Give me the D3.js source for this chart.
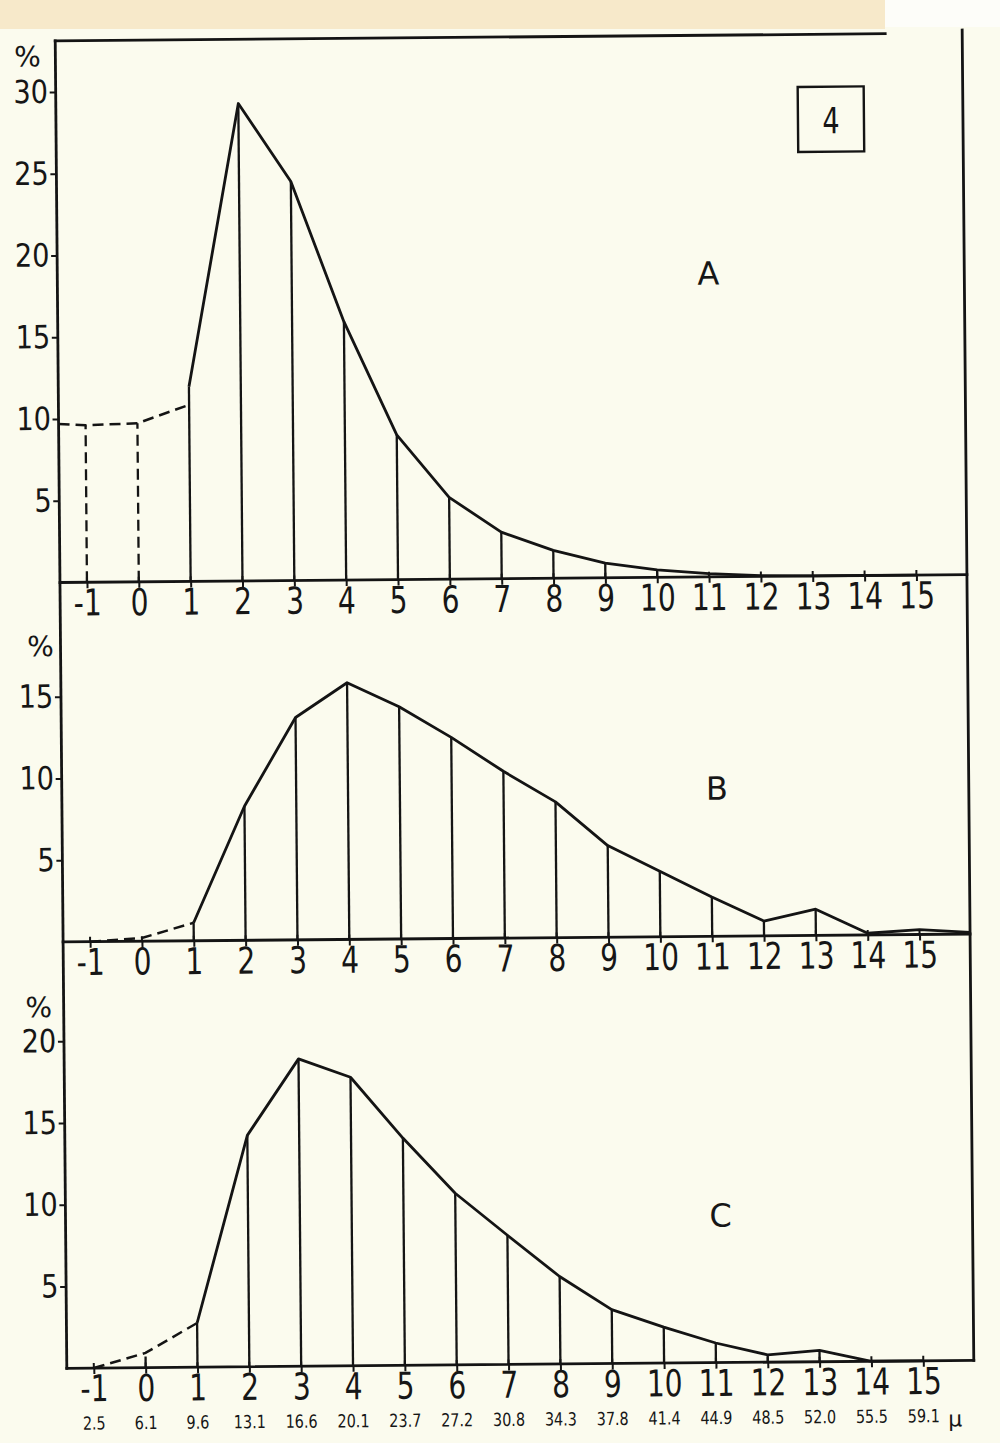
<!DOCTYPE html>
<html>
<head>
<meta charset="utf-8">
<script src="https://cdn.jsdelivr.net/npm/d3@7"></script>
<style>
  body { margin: 0; background: #fbfbee; }
  svg { display: block; }
  text { font-family: 'DejaVu Sans', sans-serif; fill: #161616; }
  .xlab { font-size: 37px; }
  .ylab { font-size: 32px; }
  .sub { font-size: 18px; }
  .tag { font-size: 32px; }
  .pct { font-size: 28px; }
</style>
</head>
<body>
<script>
// #Phi classes on the x axis and grain size (micron) under panel C
const classes = [-1, 0, 1, 2, 3, 4, 5, 6, 7, 8, 9, 10, 11, 12, 13, 14, 15];
const sizeLabels = ['2.5', '6.1', '9.6', '13.1', '16.6', '20.1', '23.7', '27.2', '30.8',
                    '34.3', '37.8', '41.4', '44.9', '48.5', '52.0', '55.5', '59.1'];

// #Percent per class
const valuesA = [9.6, 9.7, 10.8, 29.2, 24.4, 15.8, 8.85, 5.0, 2.85, 1.7, 0.9, 0.45, 0.2, 0.05, 0, 0, 0];
const valuesB = [0, 0.2, 1.1, 8.2, 13.6, 15.7, 14.2, 12.3, 10.2, 8.3, 5.6, 4.0, 2.4, 0.9, 1.6, 0.1, 0.3];
const valuesC = [0, 0.9, 2.7, 14.15, 18.8, 17.65, 13.9, 10.5, 7.9, 5.35, 3.3, 2.2, 1.2, 0.45, 0.7, 0, 0];
const leadA = 9.7;   // A: dashed level starting at the y axis
const jumpA = 11.9;  // A: solid curve restarts a bit higher at class 1
const tailB = 0.1;   // B: where the curve meets the right frame

// #Y tick labels
const ticksA = [5, 10, 15, 20, 25, 30];
const ticksB = [5, 10, 15];
const ticksC = [5, 10, 15, 20];

// #Layout
const width = 1000, height = 1443;
const ink = '#141414';
const unit = 16.35; // px per percent
const frame = {left: 61, right: 968, top: 37, topEnd: 891, rightTop: 34};

const x = d3.scaleLinear().domain([-1, 15]).range([88, 917.5]);
const xLeft = x.invert(frame.left), xRight = x.invert(frame.right);

const panels = [
    {name: 'A', values: valuesA, base: 578.6, yTicks: ticksA, lead: leadA, jump: jumpA,
     dashV: [-1, 0], vLast: 11, pct: [33, 52], tag: [712, 275]},
    {name: 'B', values: valuesB, base: 938, yTicks: ticksB, tail: tailB,
     dashV: [], vLast: 13, pct: [41, 642], tag: [716, 790]},
    {name: 'C', values: valuesC, base: 1364.4, yTicks: ticksC,
     dashV: [0], vLast: 13, pct: [36, 1003], tag: [716, 1217]}
];

const svg = d3.select('body')
              .append('svg')
              .attr('width', width)
              .attr('height', height);

// #Paper
svg.append('rect').attr('width', width).attr('height', height).attr('fill', '#fbfbee');
svg.append('rect').attr('x', 0).attr('y', 0).attr('width', 885).attr('height', 29).attr('fill', '#f7e9ca');
svg.append('rect').attr('x', 885).attr('y', 0).attr('width', 115).attr('height', 27).attr('fill', '#fdfdf9');

// the scan is slightly tilted
const plot = svg.append('g').attr('transform', 'rotate(-0.5,510,700)');

const frameLine = (x1, y1, x2, y2) => plot.append('line')
    .attr('x1', x1).attr('y1', y1).attr('x2', x2).attr('y2', y2)
    .attr('stroke', ink).attr('stroke-width', 2.8).attr('stroke-linecap', 'square');

// #Frame
const bottom = panels[2].base;
frameLine(frame.left, frame.top, frame.left, bottom);
frameLine(frame.left, frame.top, frame.topEnd, frame.top);
frameLine(frame.right, frame.rightTop, frame.right, bottom);
panels.forEach(p => frameLine(frame.left, p.base, frame.right, p.base));

// #Panels
panels.forEach(p => {
    const y = d3.scaleLinear().domain([0, 10]).range([p.base, p.base - 10 * unit]);
    const g = plot.append('g').attr('class', 'panel-' + p.name);
    const pts = classes.map((c, i) => [c, p.values[i]]);
    const line = d3.line().x(d => x(d[0])).y(d => y(d[1]));

    // y axis
    g.append('g')
     .attr('transform', `translate(${frame.left},0)`)
     .call(d3.axisLeft(y).tickValues(p.yTicks).tickSize(6).tickPadding(3))
     .call(a => a.attr('font-size', null).attr('font-family', null))
     .call(a => a.select('.domain').remove())
     .call(a => a.selectAll('line').attr('stroke', ink).attr('stroke-width', 2))
     .call(a => a.selectAll('text').attr('class', 'ylab').attr('transform', 'scale(0.85,1)'));

    // x axis
    g.append('g')
     .attr('transform', `translate(0,${p.base})`)
     .call(d3.axisBottom(x).tickValues(classes).tickSize(6).tickPadding(1).tickFormat(d => String(d)))
     .call(a => a.attr('font-size', null).attr('font-family', null))
     .call(a => a.select('.domain').remove())
     .call(a => a.selectAll('line').attr('stroke', ink).attr('stroke-width', 2))
     .call(a => a.selectAll('text').attr('class', 'xlab').attr('transform', 'scale(0.76,1)'));

    // small stubs above the axis
    g.append('g').selectAll('line')
     .data(classes)
     .join('line')
     .attr('x1', d => x(d)).attr('x2', d => x(d))
     .attr('y1', p.base - 5).attr('y2', p.base)
     .attr('stroke', ink).attr('stroke-width', 2);

    // vertical class lines
    g.append('g').selectAll('line')
     .data(pts.filter(d => d[0] >= 1 && d[0] <= p.vLast))
     .join('line')
     .attr('x1', d => x(d[0])).attr('x2', d => x(d[0]))
     .attr('y1', p.base)
     .attr('y2', d => y(d[0] === 1 && p.jump ? p.jump : d[1]))
     .attr('stroke', ink).attr('stroke-width', 2.3);

    g.append('g').selectAll('line')
     .data(pts.filter(d => p.dashV.includes(d[0])))
     .join('line')
     .attr('x1', d => x(d[0])).attr('x2', d => x(d[0]))
     .attr('y1', p.base).attr('y2', d => y(d[1]))
     .attr('stroke', ink).attr('stroke-width', 2.3)
     .attr('stroke-dasharray', '11,6');

    // curve: dashed for the coarse classes, solid after
    const dashed = (p.lead != null ? [[xLeft, p.lead]] : []).concat(pts.filter(d => d[0] <= 1));
    const solid = (p.jump ? [[1, p.jump]] : [])
        .concat(pts.filter(d => d[0] >= (p.jump ? 2 : 1)))
        .concat(p.tail != null ? [[xRight, p.tail]] : []);

    g.append('path')
     .datum(dashed)
     .attr('d', line)
     .attr('fill', 'none').attr('stroke', ink).attr('stroke-width', 2.5)
     .attr('stroke-dasharray', '11,6');

    g.append('path')
     .datum(solid)
     .attr('d', line)
     .attr('fill', 'none').attr('stroke', ink).attr('stroke-width', 2.8)
     .attr('stroke-linejoin', 'round');

    // % and panel letter
    g.append('text').attr('class', 'pct')
     .attr('x', p.pct[0]).attr('y', p.pct[1]).attr('dy', '0.36em')
     .attr('text-anchor', 'middle').text('%');

    g.append('text').attr('class', 'tag')
     .attr('x', p.tag[0]).attr('y', p.tag[1]).attr('dy', '0.36em')
     .attr('text-anchor', 'middle').text(p.name);
});

// #Grain size row under C
const sx = 0.8;
plot.append('g').selectAll('text')
    .data(classes)
    .join('text')
    .attr('class', 'sub')
    .attr('x', d => x(d) / sx)
    .attr('y', panels[2].base + 55)
    .attr('dy', '0.36em')
    .attr('text-anchor', 'middle')
    .attr('transform', `scale(${sx},1)`)
    .text((d, i) => sizeLabels[i]);

plot.append('text').attr('class', 'sub')
    .attr('x', 949).attr('y', panels[2].base + 58).attr('dy', '0.36em')
    .attr('text-anchor', 'middle').style('font-size', '22px')
    .text('μ');

// #Figure number box
plot.append('rect')
    .attr('x', 803).attr('y', 89.5).attr('width', 66).attr('height', 65)
    .attr('fill', 'none').attr('stroke', ink).attr('stroke-width', 2.4);

plot.append('text')
    .attr('x', 836 / 0.75).attr('y', 123).attr('dy', '0.36em')
    .attr('text-anchor', 'middle').attr('transform', 'scale(0.75,1)')
    .style('font-size', '36px')
    .text('4');
</script>
</body>
</html>
